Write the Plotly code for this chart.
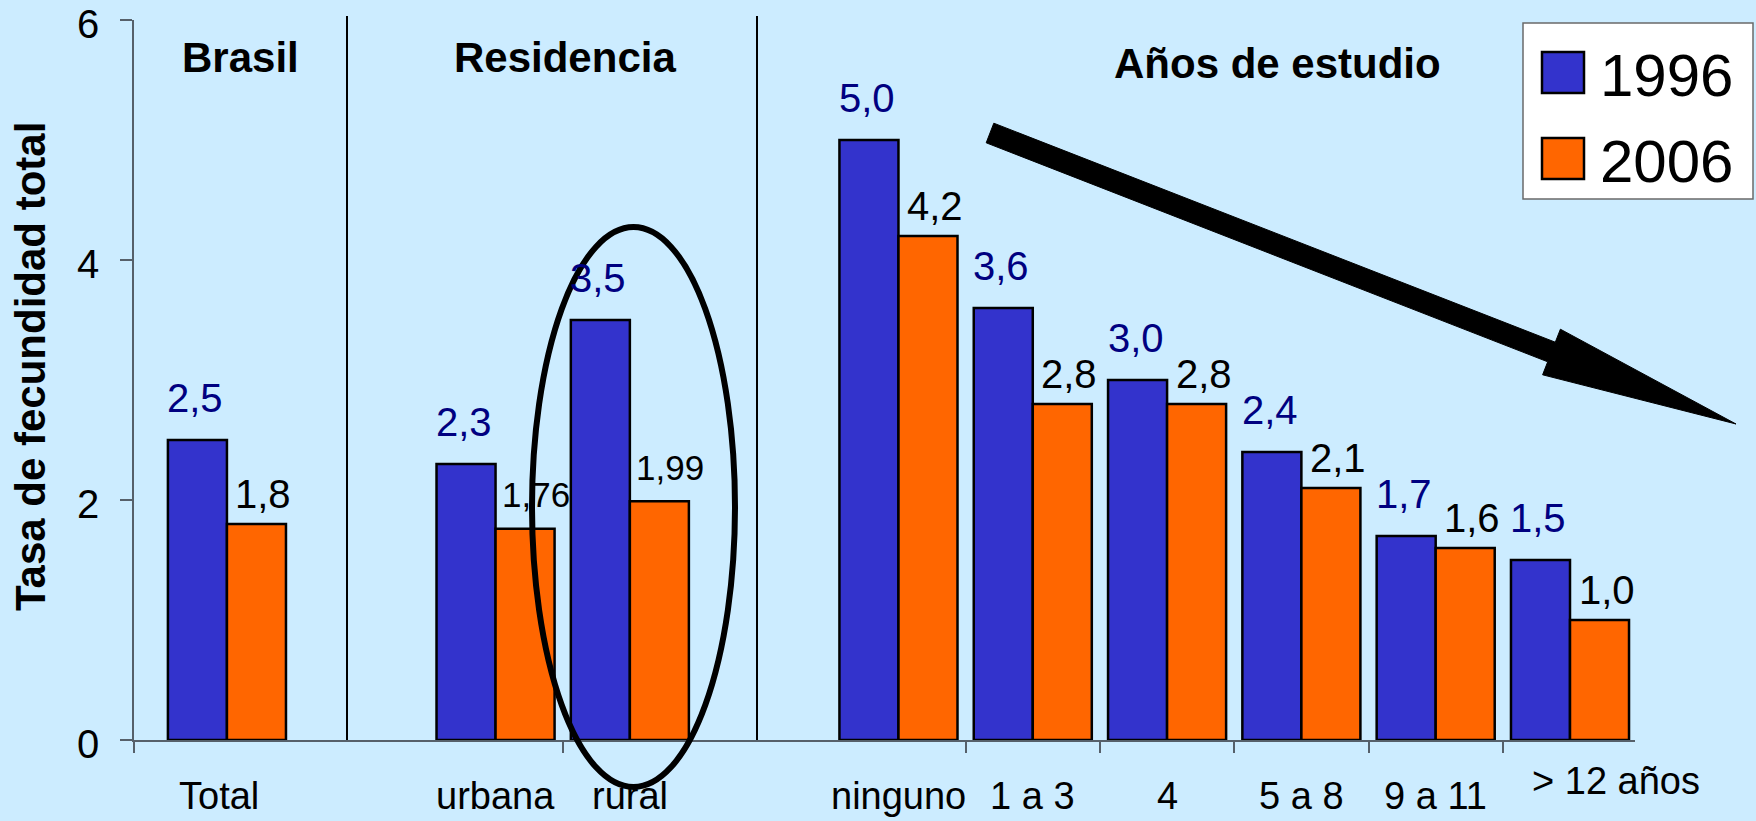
import plotly.graph_objects as go

# ---- data -------------------------------------------------------------
section_titles = ["Brasil", "Residencia", "Años de estudio"]
section_sizes = [1, 2, 6]
categories = ["Total", "urbana", "rural", "ninguno", "1 a 3", "4",
              "5 a 8", "9 a 11", "> 12 años"]
tfr_1996 = [2.5, 2.3, 3.5, 5.0, 3.6, 3.0, 2.4, 1.7, 1.5]
tfr_2006 = [1.8, 1.76, 1.99, 4.2, 2.8, 2.8, 2.1, 1.6, 1.0]
labels_1996 = ["2,5", "2,3", "3,5", "5,0", "3,6", "3,0", "2,4", "1,7", "1,5"]
labels_2006 = ["1,8", "1,76", "1,99", "4,2", "2,8", "2,8", "2,1", "1,6", "1,0"]
series_names = ["1996", "2006"]
y_ticks = [0, 2, 4, 6]

# ---- styling / geometry ----------------------------------------------
W, H = 1756, 821
M_L, M_R, M_T, M_B = 134, 121, 20, 81
BG = "#CCECFF"
BLUE, ORANGE = "#3333CC", "#FF6600"
NAVY = "#000080"
AXIS = "#56606A"
FONT = "Liberation Sans, Arial, sans-serif"
BARGAP = 0.121
X_RANGE = [-0.692, 10.484]

PX0, PX1 = M_L, W - M_R
PY_TOP, PY_BOT = M_T, H - M_B


def px(x):
    """pixel column -> paper x"""
    return (x - PX0) / (PX1 - PX0)


def py(y):
    """pixel row -> paper y"""
    return (PY_BOT - y) / (PY_BOT - PY_TOP)


# slot positions: one empty slot between sections
slots, boundaries = [], []
pos = 0
for k, n in enumerate(section_sizes):
    for j in range(n):
        slots.append(pos)
        if j > 0:
            boundaries.append(pos - 0.5)
        pos += 1
    pos += 1
tick_positions = [X_RANGE[0]] + boundaries

fig = go.Figure()
for name, vals, col in [(series_names[0], tfr_1996, BLUE),
                        (series_names[1], tfr_2006, ORANGE)]:
    fig.add_bar(x=slots, y=vals, name=name, showlegend=False,
                marker=dict(color=col, line=dict(color="black", width=2.5)))

ann = []
half = (1 - BARGAP) / 4
for i, x in enumerate(slots):
    # 1996 value labels
    ann.append(dict(x=x - half, y=tfr_1996[i], xref="x", yref="y",
                    text=labels_1996[i], showarrow=False,
                    xanchor="center", yanchor="middle",
                    xshift=-2, yshift=42,
                    font=dict(family=FONT, size=40, color=NAVY)))
    # 2006 value labels
    small = len(labels_2006[i]) > 3
    ann.append(dict(x=x + half, y=tfr_2006[i], xref="x", yref="y",
                    text=labels_2006[i], showarrow=False,
                    xanchor="center", yanchor="middle",
                    xshift=11 if small else 7,
                    yshift=30 if not small else 34,
                    font=dict(family=FONT, size=35 if small else 40,
                              color="black")))

# category labels under the axis
for i, (x, c) in enumerate(zip(slots, categories)):
    xs, yc = 0, 796
    if i == 0:
        xs = -8
    if i == len(categories) - 1:
        xs, yc = 46, 781
    ann.append(dict(x=x, y=py(yc), xref="x", yref="paper", text=c,
                    showarrow=False, xanchor="center", yanchor="middle",
                    xshift=xs, font=dict(family=FONT, size=38, color="black")))

# section headings
heading_pos = [(240, 57), (565, 57), (1277, 63)]
for t, (hx, hy) in zip(section_titles, heading_pos):
    ann.append(dict(x=px(hx), y=py(hy), xref="paper", yref="paper",
                    text=f"<b>{t}</b>", showarrow=False,
                    xanchor="center", yanchor="middle",
                    font=dict(family=FONT, size=42, color="black")))

# y-axis title
ann.append(dict(x=px(31), y=py(367), xref="paper", yref="paper",
                text="<b>Tasa de fecundidad total</b>", textangle=-90,
                showarrow=False, xanchor="center", yanchor="middle",
                font=dict(family=FONT, size=42, color="black")))

# legend text
for name, cy in zip(series_names, [75.5, 161.5]):
    ann.append(dict(x=px(1598), y=py(cy), xref="paper", yref="paper",
                    text=name, showarrow=False, xanchor="left",
                    yanchor="middle",
                    font=dict(family=FONT, size=60, color="black")))

shapes = []
# section dividers
for dx in [347, 757]:
    shapes.append(dict(type="line", xref="paper", yref="paper",
                       x0=px(dx), x1=px(dx), y0=py(16), y1=py(740),
                       line=dict(color="black", width=2)))

# ellipse around the rural pair
shapes.append(dict(type="circle", xref="paper", yref="paper",
                   x0=px(532), x1=px(735), y0=py(787), y1=py(227),
                   line=dict(color="black", width=6)))

# downward trend arrow
arrow_pts = [(993.8, 123.2), (1555.3, 342.2), (1560.4, 329.2), (1736, 424),
             (1542.6, 374.8), (1547.7, 361.8), (986.2, 142.8)]
path = "M " + " L ".join(f"{px(a):.5f},{py(b):.5f}" for a, b in arrow_pts) + " Z"
shapes.append(dict(type="path", xref="paper", yref="paper", path=path,
                   fillcolor="black", line=dict(color="black", width=1)))

# legend box and swatches
shapes.append(dict(type="rect", xref="paper", yref="paper",
                   x0=px(1523), x1=px(1753), y0=py(199), y1=py(23),
                   fillcolor="white", line=dict(color="#6A6A6A", width=1.5)))
for col, (t, b) in zip([BLUE, ORANGE], [(52, 93), (138, 179)]):
    shapes.append(dict(type="rect", xref="paper", yref="paper",
                       x0=px(1542), x1=px(1584), y0=py(b), y1=py(t),
                       fillcolor=col, line=dict(color="black", width=2.5)))

fig.update_layout(
    width=W, height=H,
    margin=dict(l=M_L, r=M_R, t=M_T, b=M_B, pad=0, autoexpand=False),
    paper_bgcolor=BG, plot_bgcolor=BG,
    barmode="group", bargap=BARGAP, bargroupgap=0,
    annotations=ann, shapes=shapes, showlegend=False,
    xaxis=dict(range=X_RANGE, showgrid=False, zeroline=False,
               showline=True, linecolor=AXIS, linewidth=1.5,
               tickmode="array", tickvals=tick_positions,
               ticks="outside", ticklen=11, tickcolor=AXIS, tickwidth=1.5,
               showticklabels=False, automargin=False),
    yaxis=dict(range=[0, 6], showgrid=False, zeroline=False,
               showline=True, linecolor=AXIS, linewidth=1.5,
               tickmode="array", tickvals=y_ticks,
               ticks="outside", ticklen=12, tickcolor=AXIS, tickwidth=1.5,
               tickfont=dict(family=FONT, size=40, color="black"),
               ticklabelstandoff=13, ticklabelshift=4,
               ticklabeloverflow="allow", automargin=False),
)

fig.write_html("out.html")
